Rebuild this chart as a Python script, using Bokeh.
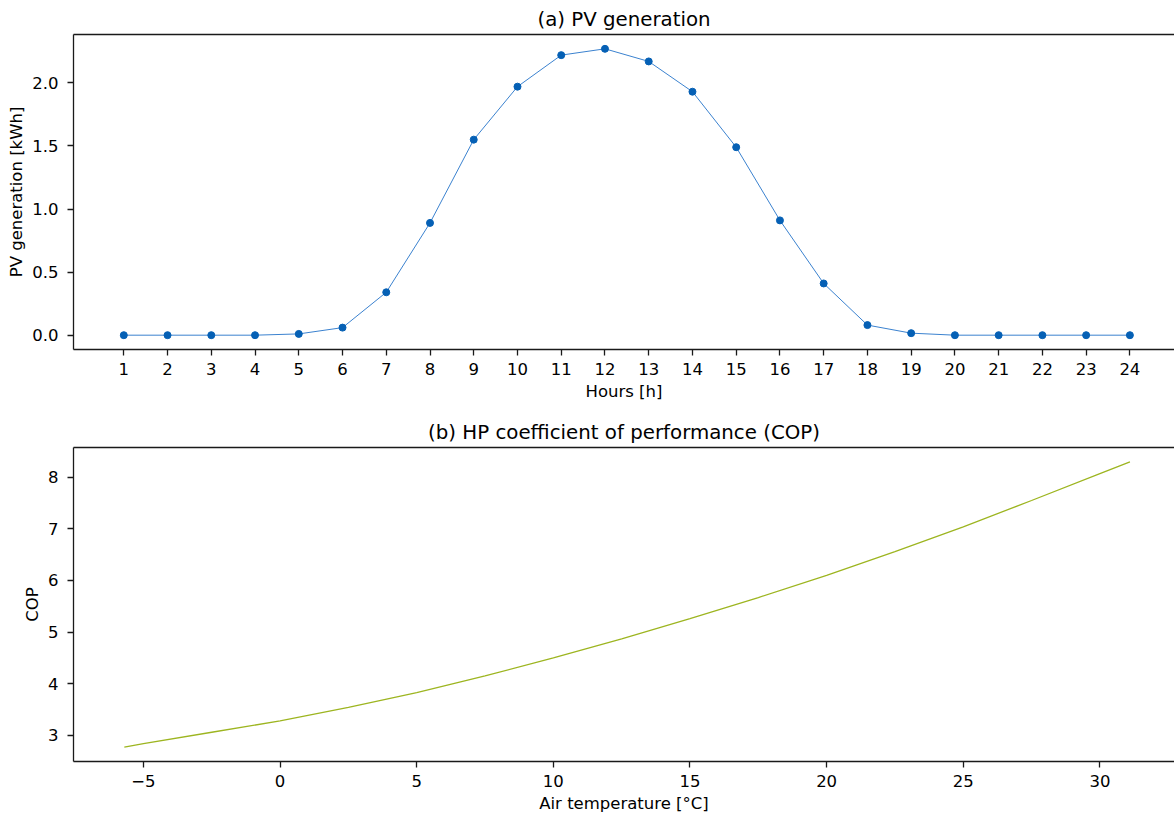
from bokeh.plotting import figure
from bokeh.layouts import column
from bokeh.models import Range1d, FixedTicker, LinearAxis, PrintfTickFormatter
from bokeh.embed import file_html
from bokeh.resources import INLINE

# ---------------- data ----------------
hours = list(range(1, 25))
pv_kwh = [0.0, 0.0, 0.0, 0.0, 0.01, 0.06, 0.34, 0.89, 1.55, 1.97, 2.22, 2.27,
          2.17, 1.93, 1.49, 0.91, 0.41, 0.08, 0.016, 0.0, 0.0, 0.0, 0.0, 0.0]

air_temp = [-5.7, -5.0, -2.5, 0.0, 2.5, 5.0, 7.5, 10.0, 12.5, 15.0, 17.5,
            20.0, 22.5, 25.0, 27.5, 30.0, 31.1]
cop = [2.77, 2.84, 3.06, 3.28, 3.54, 3.83, 4.15, 4.50, 4.87, 5.26, 5.67,
       6.10, 6.56, 7.04, 7.55, 8.07, 8.30]

pv_ticks = [0.0, 0.5, 1.0, 1.5, 2.0]
temp_ticks = [-5, 0, 5, 10, 15, 20, 25, 30]
cop_ticks = [3, 4, 5, 6, 7, 8]

FONT = "DejaVu Sans"
TICK_FS = "16.5px"
LABEL_FS = "16.5px"
TITLE_FS = "19.8px"
SPINE = "#1a1a1a"
SPINE_W = 1.3


def style_axis(ax, label, ticker, x_axis):
    ax.ticker = ticker
    ax.axis_label = label
    ax.axis_line_color = SPINE
    ax.axis_line_width = SPINE_W
    ax.major_tick_line_color = SPINE
    ax.major_tick_line_width = SPINE_W
    ax.major_tick_out = 6
    ax.major_tick_in = 0
    ax.minor_tick_line_color = None
    ax.major_label_text_font = FONT
    ax.major_label_text_font_size = TICK_FS
    ax.major_label_text_color = "black"
    ax.axis_label_text_font = FONT
    ax.axis_label_text_font_size = LABEL_FS
    ax.axis_label_text_font_style = "normal"
    ax.axis_label_text_color = "black"
    if x_axis:
        ax.major_label_standoff = 7
        ax.axis_label_standoff = 4
    else:
        ax.major_label_standoff = 9
        ax.axis_label_standoff = 3


def style(p, title_text):
    p.title.text = title_text
    p.title.align = "center"
    p.title.text_font = FONT
    p.title.text_font_size = TITLE_FS
    p.title.text_font_style = "normal"
    p.title.text_color = "black"
    p.title.standoff = 8
    p.outline_line_color = None
    p.xgrid.visible = False
    p.ygrid.visible = False
    p.background_fill_color = "white"
    p.border_fill_color = "white"
    top = LinearAxis(ticker=FixedTicker(ticks=[]),
                     major_tick_line_color=None, minor_tick_line_color=None,
                     axis_line_color=SPINE, axis_line_width=SPINE_W)
    p.add_layout(top, "above")


# ---------------- (a) PV generation ----------------
p1 = figure(width=1174, height=404, output_backend="svg", toolbar_location=None,
            x_range=Range1d(-0.15, 25.02), y_range=Range1d(-0.1135, 2.3835),
            min_border_left=73, min_border_right=0, min_border_top=34,
            min_border_bottom=55)
p1.line(hours, pv_kwh, line_color="#3b82cf", line_width=1.0)
p1.scatter(hours, pv_kwh, size=7, fill_color="#0560b5", line_color="#0560b5")
style_axis(p1.below[0], "Hours [h]", FixedTicker(ticks=hours), True)
style_axis(p1.left[0], "PV generation [kWh]", FixedTicker(ticks=pv_ticks), False)
p1.left[0].formatter = PrintfTickFormatter(format="%.1f")
style(p1, "(a) PV generation")

# ---------------- (b) COP ----------------
p2 = figure(width=1174, height=414, output_backend="svg", toolbar_location=None,
            x_range=Range1d(-7.56, 32.73), y_range=Range1d(2.4935, 8.5765),
            min_border_left=73, min_border_right=0, min_border_top=43,
            min_border_bottom=57)
p2.line(air_temp, cop, line_color="#9db520", line_width=1.3)
style_axis(p2.below[0], "Air temperature [\u00b0C]", FixedTicker(ticks=temp_ticks), True)
p2.below[0].major_label_overrides = {-5: "\u22125"}
style_axis(p2.left[0], "COP", FixedTicker(ticks=cop_ticks), False)
style(p2, "(b) HP coefficient of performance (COP)")

layout = column(p1, p2, spacing=0)

with open("out.html", "w") as f:
    f.write(file_html(layout, INLINE))
